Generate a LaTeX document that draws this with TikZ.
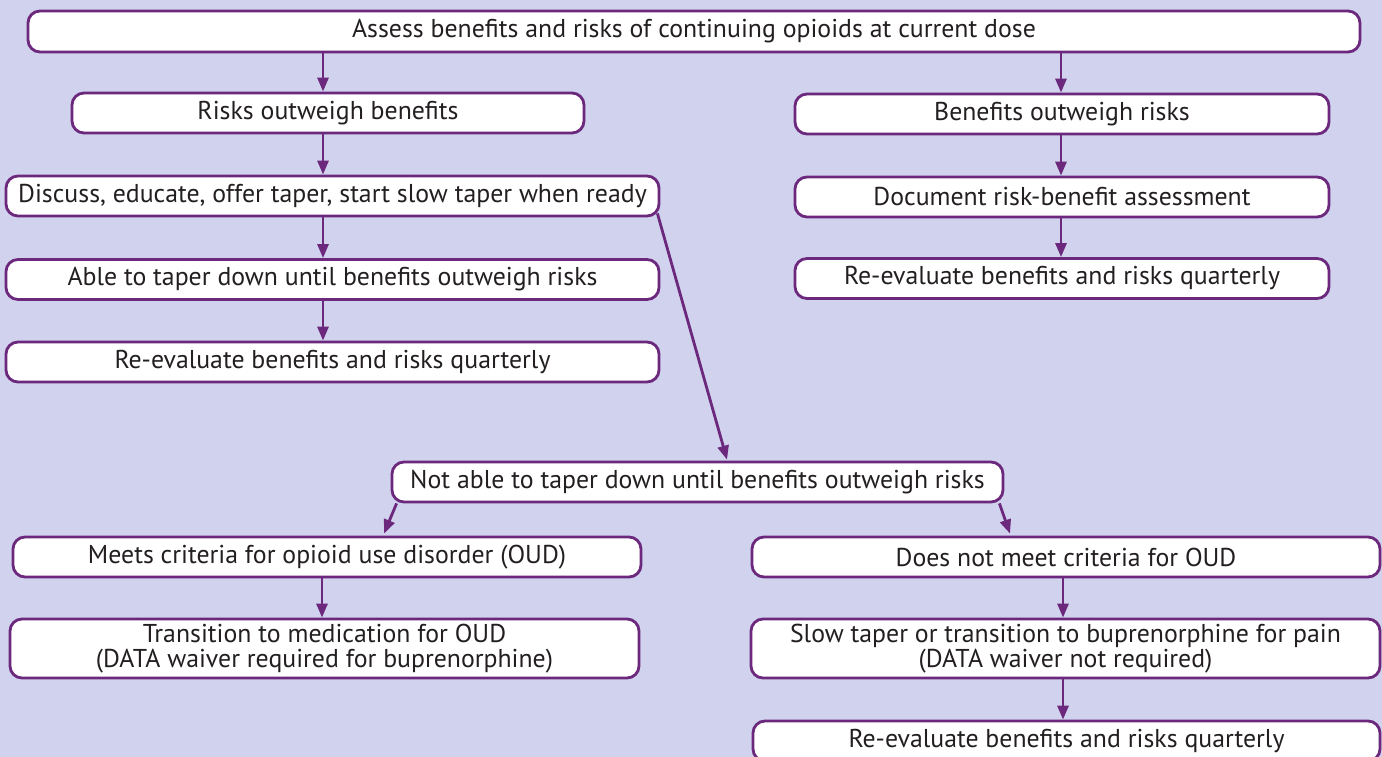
\documentclass[tikz,border=0pt]{standalone}
\usepackage{fontspec}
\setmainfont{PT Sans}
\usepackage{xcolor}
\definecolor{backdrop}{RGB}{208,210,238}
\definecolor{frame}{RGB}{107,40,125}
\definecolor{ink}{RGB}{35,31,32}
\usetikzlibrary{arrows.meta}
\usetikzlibrary{calc}

\begin{document}
\begin{tikzpicture}[x=1pt, y=-1pt,
  box/.style={draw=frame, line width=2.8pt, fill=white, rounded corners=12pt, inner sep=0pt,
    align=center, text=ink, minimum height=40pt, font=\fontsize{25.8}{24.5}\selectfont},
  arr/.style={draw=frame, line width=2.8pt, -{Triangle[length=14pt,width=11pt]}}]

\useasboundingbox[fill=backdrop] (0,0) rectangle (1382,757);

% top
  \node[box, minimum width=1332pt, minimum height=41pt] (assess) at (694,31.5) {Assess benefits and risks of continuing opioids at current dose};

% left column
  \node[box, minimum width=512pt] (risks) at (328,113) {Risks outweigh benefits};
  \node[box, minimum width=653pt] (discuss) at (332.5,196) {Discuss, educate, offer taper, start slow taper when ready};
  \node[box, minimum width=653pt] (able) at (332.5,279.5) {Able to taper down until benefits outweigh risks};
  \node[box, minimum width=653pt] (reevalL) at (332.5,362) {Re-evaluate benefits and risks quarterly};

% right column
  \node[box, minimum width=534pt] (benefits) at (1062,114) {Benefits outweigh risks};
  \node[box, minimum width=534pt] (document) at (1062,197) {Document risk-benefit assessment};
  \node[box, minimum width=534pt] (reevalR) at (1062,278.5) {Re-evaluate benefits and risks quarterly};

% not able
  \node[box, minimum width=611pt] (notable) at (697.5,482) {Not able to taper down until benefits outweigh risks};

  \node[box, minimum width=628pt] (meets) at (327,557) {Meets criteria for opioid use disorder (OUD)};
  \node[box, minimum width=629pt, minimum height=59pt] (transition) at (324.5,648.5) {Transition to medication for OUD\\(DATA waiver required for buprenorphine)};

  \node[box, minimum width=628pt] (notmeet) at (1066,557) {Does not meet criteria for OUD};
  \node[box, minimum width=629pt, minimum height=59pt] (slow) at (1065.5,648.5) {Slow taper or transition to buprenorphine for pain\\(DATA waiver not required)};
  \node[box, minimum width=627pt] (reevalB) at (1066.5,741) {Re-evaluate benefits and risks quarterly};

% columns for the arrows
  \coordinate (colL) at (323,0);
  \coordinate (colR) at (1061,0);
  \coordinate (colBL) at (322,0);
  \coordinate (colBR) at (1063,0);

  \draw[arr] (assess.south -| colL) -- (risks.north -| colL);
  \draw[arr] (risks.south -| colL) -- (discuss.north -| colL);
  \draw[arr] (discuss.south -| colL) -- (able.north -| colL);
  \draw[arr] (able.south -| colL) -- (reevalL.north -| colL);

  \draw[arr] (assess.south -| colR) -- (benefits.north -| colR);
  \draw[arr] (benefits.south -| colR) -- (document.north -| colR);
  \draw[arr] (document.south -| colR) -- (reevalR.north -| colR);

  \draw[arr] ([xshift=-3pt,yshift=4pt]discuss.south east) -- ([yshift=1pt]notable.north -| 727,0);
  \draw[arr] ([xshift=6pt]notable.south west) -- ([yshift=2pt]meets.north -| 384,0);
  \draw[arr] ([xshift=-5pt]notable.south east) -- ([yshift=2pt]notmeet.north -| 1010,0);

  \draw[arr] (meets.south -| colBL) -- (transition.north -| colBL);
  \draw[arr] (notmeet.south -| colBR) -- (slow.north -| colBR);
  \draw[arr] (slow.south -| colBR) -- (reevalB.north -| colBR);

\end{tikzpicture}
\end{document}
